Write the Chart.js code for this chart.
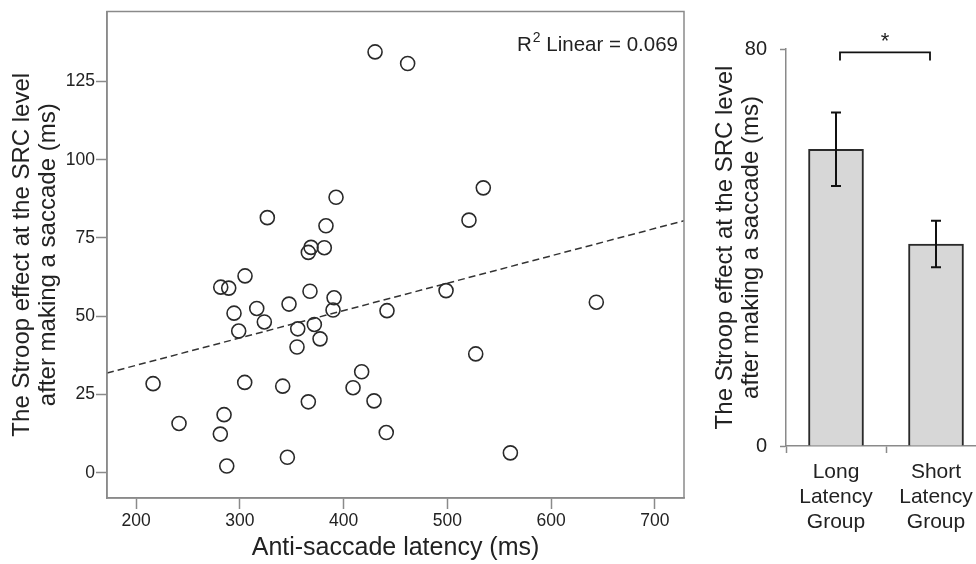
<!DOCTYPE html>
<html>
<head>
<meta charset="utf-8">
<script src="https://cdn.jsdelivr.net/npm/chart.js@4.4.1/dist/chart.umd.min.js"></script>
<style>
  html, body { margin: 0; padding: 0; background: #fff; overflow: hidden; width: 976px; height: 564px; }
  #scatterChart { position: absolute; left: 0; top: 0; }
  #barChart { position: absolute; left: 700px; top: 0; }
</style>
</head>
<body>
<canvas id="scatterChart" width="700" height="564"></canvas>
<canvas id="barChart" width="300" height="564"></canvas>
<script>
// scatter: anti-saccade latency vs Stroop effect
const latency = [430.3, 461.7, 392.7, 326.5, 383.0, 368.6, 381.4, 366.0, 534.6, 520.8,
    305.0, 281.6, 289.3, 367.6, 390.8, 347.4, 316.3, 389.8, 441.8, 294.4,
    323.6, 371.8, 355.8, 298.9, 377.3, 355.1, 417.4, 304.7, 409.1, 341.3,
    429.3, 366.0, 241.4, 284.8, 281.2, 441.1, 345.8, 287.4, 216.4, 498.7,
    643.5, 527.3, 560.7];
const stroop = [134.4, 130.7, 88.0, 81.5, 78.9, 72.0, 71.9, 70.4, 91.0, 80.7,
    62.9, 59.3, 59.0, 58.0, 55.9, 53.9, 52.5, 52.0, 51.8, 51.0,
    48.2, 47.4, 46.0, 45.3, 42.8, 40.2, 32.3, 28.9, 27.2, 27.7,
    23.0, 22.7, 15.8, 18.6, 12.4, 12.9, 5.0, 2.2, 28.5, 58.2,
    54.5, 38.0, 6.4];
const fitLineX = [172, 728];
const fitLineY = [31.9, 80.5];
const xTicks = [200, 300, 400, 500, 600, 700];
const yTicks = [0, 25, 50, 75, 100, 125];
const r2Text = "0.069";

// bar: group means with error bars
const groups = [["Long", "Latency", "Group"], ["Short", "Latency", "Group"]];
const groupMeans = [59.8, 40.7];
const groupErrors = [7.4, 4.7];
const barTicks = [0, 80];
const bracketTop = 79.3;
const bracketLeg = 77.7;

const FONT = '"Liberation Sans", Arial, sans-serif';
const TEXT = "#222";
const AXIS = "#8a8a8a";
const yTitle = ["The Stroop effect at the SRC level", "after making a saccade (ms)"];

const boxPlugin = {
    id: "box",
    afterDatasetsDraw(chart) {
        const { ctx, chartArea: a } = chart;
        ctx.save();
        ctx.strokeStyle = AXIS;
        ctx.lineWidth = 1.5;
        ctx.strokeRect(a.left, a.top, a.right - a.left, a.bottom - a.top);
        // R² label
        ctx.fillStyle = TEXT;
        ctx.textBaseline = "alphabetic";
        ctx.textAlign = "left";
        ctx.font = "20.5px " + FONT;
        const rest = " Linear = " + r2Text;
        const wRest = ctx.measureText(rest).width;
        const wR = ctx.measureText("R").width;
        ctx.font = "14px " + FONT;
        const w2 = ctx.measureText("2").width;
        const x0 = a.right - 7 - wRest - w2 - wR;
        const base = 51;
        ctx.font = "20.5px " + FONT;
        ctx.fillText("R", x0, base);
        ctx.font = "14px " + FONT;
        ctx.fillText("2", x0 + wR + 1, base - 9);
        ctx.font = "20.5px " + FONT;
        ctx.fillText(rest, x0 + wR + w2 + 1, base);
        ctx.restore();
    },
};

new Chart(document.getElementById("scatterChart"), {
    type: "scatter",
    data: {
        datasets: [
            {
                data: latency.map((x, i) => ({ x, y: stroop[i] })),
                pointRadius: 7,
                pointHoverRadius: 7,
                borderWidth: 1.6,
                borderColor: "#2a2a2a",
                backgroundColor: "rgba(255,255,255,0)",
            },
            {
                type: "line",
                data: fitLineX.map((x, i) => ({ x, y: fitLineY[i] })),
                borderColor: "#333",
                borderWidth: 1.5,
                borderDash: [7, 4],
                pointRadius: 0,
                fill: false,
            },
        ],
    },
    options: {
        responsive: false,
        animation: false,
        events: [],
        layout: { padding: { left: 0, right: 16, top: 11, bottom: 0 } },
        plugins: { legend: { display: false }, tooltip: { enabled: false } },
        scales: {
            x: {
                type: "linear",
                min: 172,
                max: 728,
                afterBuildTicks: (s) => { s.ticks = xTicks.map((v) => ({ value: v })); },
                afterFit: (s) => { s.height = 66; },
                border: { color: AXIS, width: 1.5 },
                grid: { drawOnChartArea: false, tickLength: 11, color: AXIS, tickWidth: 1.5 },
                ticks: { color: TEXT, font: { family: FONT, size: 17.5 }, padding: 2 },
                title: {
                    display: true,
                    text: "Anti-saccade latency (ms)",
                    color: TEXT,
                    font: { family: FONT, size: 25, lineHeight: "26px" },
                    padding: { top: 0, bottom: 3 },
                },
            },
            y: {
                type: "linear",
                min: -8,
                max: 147.3,
                afterBuildTicks: (s) => { s.ticks = yTicks.map((v) => ({ value: v })); },
                afterFit: (s) => { s.width = 107; },
                border: { color: AXIS, width: 1.5 },
                grid: { drawOnChartArea: false, tickLength: 11, color: AXIS, tickWidth: 1.5 },
                ticks: { color: TEXT, font: { family: FONT, size: 17.5 }, padding: 1 },
                title: {
                    display: true,
                    text: yTitle,
                    color: TEXT,
                    font: { family: FONT, size: 24, lineHeight: "26px" },
                    padding: { top: 9, bottom: 0 },
                },
            },
        },
    },
    plugins: [boxPlugin],
});

const errorPlugin = {
    id: "errors",
    afterDatasetsDraw(chart) {
        const { ctx } = chart;
        const xs = chart.scales.x;
        const ys = chart.scales.y;
        ctx.save();
        ctx.strokeStyle = "#111";
        ctx.lineWidth = 2;
        groupMeans.forEach((m, i) => {
            const x = xs.getPixelForValue(i);
            const yHi = ys.getPixelForValue(m + groupErrors[i]);
            const yLo = ys.getPixelForValue(m - groupErrors[i]);
            ctx.beginPath();
            ctx.moveTo(x, yHi);
            ctx.lineTo(x, yLo);
            ctx.moveTo(x - 5, yHi);
            ctx.lineTo(x + 5, yHi);
            ctx.moveTo(x - 5, yLo);
            ctx.lineTo(x + 5, yLo);
            ctx.stroke();
        });
        // significance bracket
        const x1 = xs.getPixelForValue(0) + 4;
        const x2 = xs.getPixelForValue(1) - 6;
        const yt = ys.getPixelForValue(bracketTop);
        const yl = ys.getPixelForValue(bracketLeg);
        ctx.lineWidth = 1.8;
        ctx.beginPath();
        ctx.moveTo(x1, yl);
        ctx.lineTo(x1, yt);
        ctx.lineTo(x2, yt);
        ctx.lineTo(x2, yl);
        ctx.stroke();
        ctx.fillStyle = TEXT;
        ctx.font = "22px " + FONT;
        ctx.textAlign = "center";
        ctx.textBaseline = "middle";
        ctx.fillText("*", (x1 + x2) / 2, yt - 11);
        ctx.restore();
    },
};

new Chart(document.getElementById("barChart"), {
    type: "bar",
    data: {
        labels: groups,
        datasets: [
            {
                data: groupMeans,
                backgroundColor: "#d7d7d7",
                borderColor: "#2a2a2a",
                borderWidth: 2,
                barThickness: 55,
            },
        ],
    },
    options: {
        responsive: false,
        animation: false,
        events: [],
        layout: { padding: { left: 0, right: 14, top: 49, bottom: 0 } },
        plugins: { legend: { display: false }, tooltip: { enabled: false } },
        scales: {
            x: {
                afterFit: (s) => { s.height = 118; },
                border: { color: AXIS, width: 1.5 },
                grid: { drawOnChartArea: false, offset: true, tickLength: 7, color: AXIS, tickWidth: 1.5 },
                ticks: { color: TEXT, font: { family: FONT, size: 21, lineHeight: "25px" }, padding: 7 },
            },
            y: {
                min: 0,
                max: 80,
                afterBuildTicks: (s) => { s.ticks = barTicks.map((v) => ({ value: v })); },
                afterFit: (s) => { s.width = 86; },
                border: { color: AXIS, width: 1.5 },
                grid: { drawOnChartArea: false, tickLength: 6, color: AXIS, tickWidth: 1.5 },
                ticks: { color: TEXT, font: { family: FONT, size: 20 }, padding: 13 },
                title: {
                    display: true,
                    text: yTitle,
                    color: TEXT,
                    font: { family: FONT, size: 24, lineHeight: "26px" },
                    padding: { top: 12, bottom: 0 },
                },
            },
        },
    },
    plugins: [errorPlugin],
});
</script>
</body>
</html>
